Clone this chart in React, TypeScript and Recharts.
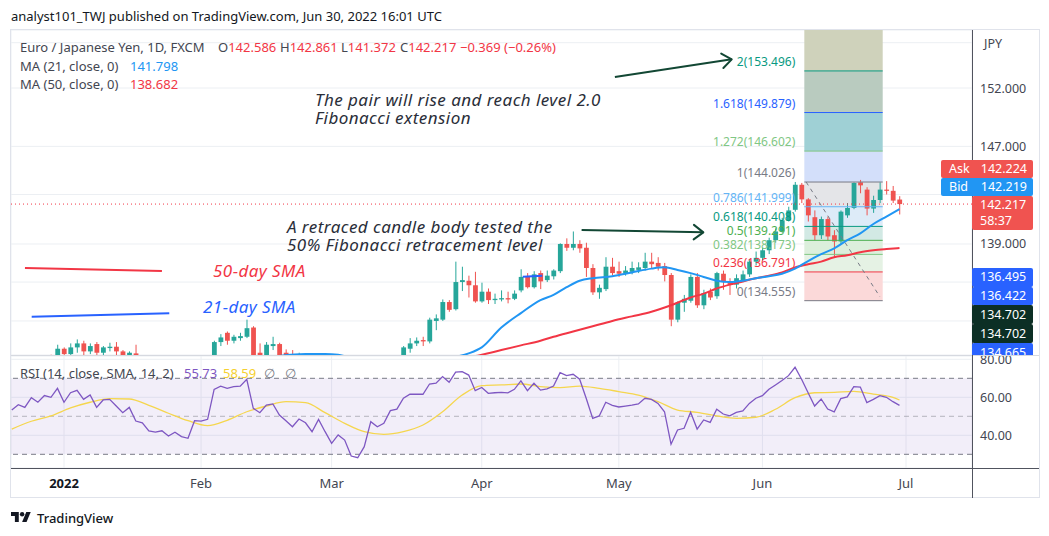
import React from "react";
import {
  ComposedChart,
  Bar,
  Line,
  XAxis,
  YAxis,
  CartesianGrid,
  ReferenceLine,
  ReferenceArea,
} from "recharts";

// daily bars, index 0 = Mon Jan 3 2022, one step per trading day
const firstBar = -8;

const opens = [
  128.3, 128.8, 129.3, 129.1, 129.7, 129.5, 130.0, 129.9,
  130.9, 130.5, 131.0, 131.3, 130.7, 131.25, 130.6, 130.95, 131.05, 130.7, 130.2, 130.55,
  129.8, 129.6, 129.1, 129.0, 129.1, 128.6, 128.9, 128.5, 128.35,
  129.2, 129.2, 129.35, 131.4, 132.1, 131.5, 131.7, 131.8, 132.5, 130.6, 130.3, 131.1,
  131.25, 130.6, 130.1, 129.7, 130.2, 129.9, 129.2, 130.0,
  128.9, 127.7, 128.4, 127.8, 126.0, 125.7, 126.6, 128.4, 127.9, 128.3, 129.4, 129.6,
  130.9, 131.3, 131.55, 131.45, 133.0, 133.1, 134.45, 133.9, 136.0, 136.1, 135.75,
  134.5, 135.25, 134.6, 134.65, 134.75, 134.7, 135.35, 136.4, 135.6, 136.7, 136.15,
  136.45, 136.85, 139.0, 138.7, 139.0, 138.7, 137.1, 135.2, 135.45, 137.2,
  136.85, 136.7, 136.8, 136.95, 137.1, 137.6, 137.5, 137.25, 136.55, 133.1, 134.4,
  134.55, 136.4, 134.2, 135.25, 134.9, 136.65, 136.05, 135.8, 136.15, 136.6, 137.6,
  137.9, 138.5, 139.3, 140.0, 140.9, 141.75, 143.8, 142.6, 141.15, 139.7, 141.0,
  139.7, 139.2, 141.3, 141.9, 144.0, 143.4, 141.85, 142.55, 143.4, 143.3, 142.586,
];

const highs = [
  129.0, 129.5, 129.4, 129.8, 129.9, 130.2, 130.45, 131.2,
  131.0, 131.3, 131.6, 131.5, 131.3, 131.4, 131.1, 131.35, 131.4, 130.8, 130.7, 131.2,
  130.2, 129.8, 129.3, 129.4, 129.2, 129.2, 129.0, 128.7, 129.4,
  129.5, 129.7, 131.5, 132.0, 132.2, 131.95, 132.1, 133.1, 132.6, 131.3, 131.4, 131.8,
  131.35, 130.85, 130.8, 130.6, 130.3, 130.1, 130.1, 130.0,
  129.3, 128.6, 128.6, 127.9, 126.6, 126.8, 128.6, 128.9, 128.7, 129.6, 130.1, 131.1,
  131.7, 131.75, 131.8, 133.25, 133.5, 134.65, 134.6, 137.6, 137.2, 136.5, 136.8,
  135.95, 135.5, 135.1, 135.35, 135.25, 135.35, 137.0, 136.7, 136.85, 136.9, 136.9,
  137.0, 139.05, 139.45, 140.0, 139.3, 139.1, 137.4, 135.8, 137.95, 137.9,
  137.6, 137.25, 137.6, 137.55, 138.3, 138.3, 137.95, 137.5, 136.7, 134.5, 135.0,
  136.6, 136.7, 135.4, 135.5, 136.8, 136.9, 136.3, 136.6, 136.9, 137.8, 138.4,
  138.7, 139.5, 140.25, 141.1, 142.0, 144.03, 143.95, 142.7, 141.7, 141.2, 141.2,
  140.1, 141.7, 142.3, 144.0, 144.2, 143.6, 142.9, 144.0, 144.1, 143.7, 142.861,
];

const lows = [
  128.1, 128.6, 129.0, 129.0, 129.3, 129.3, 129.7, 129.8,
  130.2, 130.3, 130.6, 130.4, 130.5, 130.2, 130.3, 130.7, 130.4, 129.9, 130.0, 129.6,
  129.4, 128.9, 128.7, 128.2, 128.4, 128.5, 128.2, 127.7, 128.2,
  128.9, 129.0, 129.2, 131.1, 131.2, 131.3, 131.5, 131.7, 130.2, 130.0, 130.2, 130.8,
  130.2, 130.0, 129.5, 129.5, 129.7, 128.1, 128.9, 128.5,
  127.3, 127.4, 127.4, 125.7, 124.4, 125.4, 126.5, 127.5, 127.4, 128.1, 129.1, 129.4,
  130.6, 131.1, 131.1, 131.3, 132.3, 133.0, 133.7, 133.8, 135.3, 134.8, 134.4,
  134.4, 134.3, 134.3, 134.5, 134.35, 134.6, 135.2, 135.5, 135.5, 135.45, 136.0,
  136.2, 136.7, 138.45, 138.5, 138.3, 136.4, 135.0, 134.7, 135.3, 136.5,
  136.4, 136.5, 136.6, 136.7, 136.9, 137.1, 136.9, 136.05, 132.6, 132.9, 133.7,
  134.4, 134.0, 133.9, 134.6, 134.7, 135.4, 135.0, 135.5, 136.0, 136.4, 137.3,
  137.7, 138.2, 139.1, 139.9, 140.8, 141.6, 142.3, 140.8, 139.3, 139.4, 139.3,
  137.9, 139.0, 141.1, 141.8, 143.1, 141.3, 141.5, 142.3, 143.0, 142.3, 141.372,
];

const closes = [
  128.8, 129.3, 129.1, 129.7, 129.5, 130.0, 129.9, 130.9,
  130.5, 131.0, 131.3, 130.7, 131.1, 130.6, 131.0, 131.05, 130.7, 130.2, 130.6, 129.8,
  129.6, 129.1, 129.0, 129.1, 128.6, 128.9, 128.5, 128.35, 129.2,
  129.2, 129.35, 131.4, 131.75, 131.5, 131.8, 131.85, 132.45, 130.35, 130.3, 131.2,
  131.25, 130.4, 130.1, 129.7, 130.2, 129.9, 129.2, 130.0, 128.9,
  127.7, 128.4, 127.8, 126.0, 125.7, 126.6, 128.4, 127.9, 128.3, 129.4, 129.6, 131.0,
  131.3, 131.5, 131.45, 133.1, 133.2, 134.45, 133.85, 136.0, 136.15, 135.75, 134.5,
  135.25, 134.6, 134.7, 134.75, 134.65, 135.1, 136.4, 135.6, 136.6, 136.05, 136.5,
  136.9, 139.0, 138.7, 139.0, 138.65, 137.1, 135.2, 135.55, 137.2, 136.7,
  136.65, 136.9, 137.1, 137.15, 137.6, 137.4, 137.2, 136.55, 133.1, 134.4, 134.7,
  136.4, 134.2, 135.15, 134.8, 136.7, 136.0, 135.8, 136.3, 136.6, 137.6, 137.9,
  138.5, 139.3, 140.0, 140.9, 141.7, 143.8, 142.6, 141.3, 139.7, 141.0, 139.6,
  139.2, 141.6, 141.9, 143.95, 143.75, 141.85, 142.55, 143.4, 143.3, 142.5, 142.217,
];

// RSI(14) per bar
const rsiValues = [
  53.3, 56.1, 54.7, 59.8, 57.4, 60.9, 60.0, 64.7,
  57.4, 62.4, 63.7, 58.9, 61.2, 54.7, 58.6, 58.9, 55.4, 51.9, 54.7, 47.5,
  46.6, 42.3, 41.7, 42.4, 39.6, 41.6, 39.3, 38.4, 47.7,
  47.5, 48.4, 64.2, 65.9, 64.7, 65.6, 65.9, 69.5, 54.2, 51.9, 55.9,
  56.5, 50.7, 47.7, 44.5, 48.6, 46.6, 41.9, 48.4, 41.9,
  35.8, 40.2, 37.5, 29.1, 28.2, 34.0, 47.2, 44.5, 46.3, 53.0, 53.8, 59.5,
  61.6, 61.7, 61.6, 67.0, 67.4, 70.9, 67.9, 73.3, 73.5, 71.7, 63.5,
  65.2, 62.1, 62.4, 62.6, 62.3, 64.2, 68.6, 63.5, 67.4, 63.8, 64.4,
  65.9, 73.0, 71.4, 72.1, 69.5, 59.5, 48.9, 50.2, 57.4, 55.8,
  54.9, 55.4, 55.9, 56.5, 59.5, 58.9, 56.8, 52.4, 35.3, 42.8, 43.7,
  52.1, 43.3, 48.1, 46.8, 53.7, 51.2, 50.2, 52.1, 52.8, 56.8, 59.5,
  60.9, 64.2, 66.5, 68.8, 71.4, 75.8, 69.5, 62.4, 55.4, 59.1, 53.8,
  52.3, 59.3, 60.2, 65.6, 65.4, 57.2, 58.9, 60.9, 60.0, 57.7, 55.73,
];

// moving averages read at a few bars; the curve is drawn through them
const sma21Points = [
  [-8, 128.7], [-3, 128.9], [2, 129.3], [7, 129.8], [12, 130.2], [17, 130.0],
  [22, 129.8], [27, 129.9], [32, 130.3], [37, 130.5], [40, 130.5], [42, 130.45],
  [45, 130.0], [50, 129.4], [55, 129.9], [59, 130.2], [62, 130.55], [64, 131.0],
  [67, 132.5], [70, 133.6], [73, 134.6], [75, 135.0], [77, 135.6], [79, 136.1],
  [81, 136.3], [84, 136.45], [87, 136.75], [90, 137.05], [92, 137.15], [94, 136.95],
  [96, 136.7], [98, 136.4], [100, 136.1], [102, 136.0], [104, 136.1], [106, 136.3],
  [108, 136.45], [110, 136.65], [112, 137.05], [114, 137.65], [116, 138.2],
  [118, 138.65], [120, 139.3], [122, 139.85], [124, 140.6], [126, 141.2], [128, 141.798],
];

const sma50Points = [
  [-8, 129.6], [2, 129.5], [12, 129.6], [22, 129.7], [32, 130.0], [42, 130.1],
  [52, 129.9], [60, 130.1], [64, 130.45], [67, 130.8], [70, 131.15], [73, 131.5],
  [75, 131.8], [78, 132.2], [81, 132.6], [84, 133.0], [87, 133.35], [90, 133.7],
  [93, 134.2], [96, 134.8], [98, 135.1], [100, 135.5], [102, 135.8], [104, 136.05],
  [106, 136.3], [108, 136.5], [110, 136.75], [112, 137.15], [114, 137.4], [116, 137.6],
  [118, 137.95], [120, 138.1], [122, 138.35], [124, 138.5], [126, 138.6], [128, 138.682],
];

const rsiMaPoints = [
  [-8, 43.3], [-5, 47.4], [-2, 50.2], [1, 54.4], [4, 57.4], [7, 59.3], [10, 59.1],
  [13, 55.8], [16, 51.6], [19, 47.7], [22, 45.1], [25, 47.9], [28, 52.4], [31, 55.4],
  [34, 57.7], [37, 57.2], [40, 51.9], [43, 46.3], [46, 41.9], [49, 40.5], [52, 41.9],
  [55, 45.4], [58, 52.4], [61, 61.2], [64, 66.1], [67, 66.5], [70, 67.0], [73, 65.6],
  [76, 65.1], [79, 65.9], [82, 64.7], [85, 63.0], [88, 61.2], [91, 57.7], [94, 53.3],
  [97, 52.1], [100, 50.2], [103, 48.9], [106, 49.5], [109, 53.7], [112, 59.8],
  [115, 62.4], [118, 62.6], [121, 63.1], [124, 61.7], [127, 60.0], [128, 58.59],
];

const monthTicks = [0, 21, 41, 64, 85, 107, 129];
const monthLabels = ["2022", "Feb", "Mar", "Apr", "May", "Jun", "Jul"];
const priceTicks = [133, 136, 139, 143, 147, 152, 156];
const priceLabels = [139, 147, 152];
const rsiTicks = [40, 60, 80];

// fibonacci tool
const fibRatios = [0, 0.236, 0.382, 0.5, 0.618, 0.786, 1, 1.272, 1.618, 2, 2.618];
const fibPrices = [134.555, 136.791, 138.173, 139.291, 140.408, 141.999, 144.026, 146.602, 149.879, 153.496, 159.35];
const fibBars = [113.42, 125.43];
const fibTrend = [{ x: 113.7, y: 144.026 }, { x: 125.0, y: 134.86 }];

// hand drawn lines on the chart, bar index / price
const arrowRise = [{ x: 84.4, y: 152.96 }, { x: 102.3, y: 154.52 }];
const arrowRetrace = [{ x: 79.3, y: 140.12 }, { x: 97.95, y: 139.93 }];
const redKeyLine = [{ x: -5.98, y: 137.1 }, { x: 15.0, y: 136.87 }];
const blueKeyLine = [{ x: -4.95, y: 133.33 }, { x: 16.13, y: 133.59 }];
const blueShortLine = [{ x: 70.28, y: 136.42 }, { x: 73.28, y: 136.49 }];
const lastPrice = 142.217;

const xDomain = [-8.12, 139.11];
const priceDomain = [130.43, 157.14];
const rsiDomain = [22.79, 81.74];

const toMap = (pts: number[][]) => new Map(pts.map(([i, v]) => [i, v]));
const sma21Map = toMap(sma21Points);
const sma50Map = toMap(sma50Points);
const rsiMaMap = toMap(rsiMaPoints);

const rows = opens.map((open, k) => {
  const i = firstBar + k;
  return {
    i,
    open,
    high: highs[k],
    low: lows[k],
    close: closes[k],
    range: [lows[k], highs[k]],
    sma21: sma21Map.get(i) ?? null,
    sma50: sma50Map.get(i) ?? null,
    rsi: rsiValues[k],
    rsiMa: rsiMaMap.get(i) ?? null,
  };
});

const font = "'Noto Sans', 'Open Sans', sans-serif";
const up = "#26a69a";
const down = "#ef5350";
const arrowColor = "#124734";
const axisText = "#434651";
const gridColor = "#eceff3";
const fibLineColors = ["#787b86", "#f23645", "#81c784", "#4caf50", "#089981", "#64b5f6", "#787b86", "#81c784", "#2962ff", "#089981", "#f23645"];
const fibFillColors = ["#fbd9d9", "#e5f2e4", "#dcefdc", "#d2e9e4", "#ddebf8", "#e4e5e8", "#d3dffa", "#9fd0d5", "#b9cbbf", "#cfd2bb"];

// range bar [low, high] turned into a candle; the y scale is log
const Candle = (props: any) => {
  const { x, y, width, height, payload } = props;
  const { open, close, high, low } = payload;
  const lh = Math.log(high);
  const ll = Math.log(low);
  const toY = (v: number) => (lh === ll ? y : y + (height * (lh - Math.log(v))) / (lh - ll));
  const cx = x + width / 2;
  const color = close >= open ? up : down;
  const top = toY(Math.max(open, close));
  const bot = toY(Math.min(open, close));
  return (
    <g>
      <line x1={cx} x2={cx} y1={y} y2={y + height} stroke={color} strokeWidth={1} />
      <rect x={cx - 2.4} y={top} width={4.8} height={Math.max(1, bot - top)} fill={color} />
    </g>
  );
};

const ArrowShape = (p: any) => {
  const { x1, y1, x2, y2 } = p;
  const a = Math.atan2(y2 - y1, x2 - x1);
  const head = (s: number) => `${x2 - 12 * Math.cos(a + s)},${y2 - 12 * Math.sin(a + s)}`;
  return (
    <g>
      <line x1={x1} y1={y1} x2={x2} y2={y2} stroke={arrowColor} strokeWidth={2} />
      <polyline
        points={`${head(0.65)} ${x2},${y2} ${head(-0.65)}`}
        fill="none"
        stroke={arrowColor}
        strokeWidth={2}
        strokeLinecap="round"
        strokeLinejoin="round"
      />
    </g>
  );
};

const fibShape = (k: number) => (p: any) => (
  <g>
    <line x1={p.x1} y1={p.y1} x2={p.x2} y2={p.y2} stroke={fibLineColors[k]} strokeWidth={1} />
    <text
      x={Math.min(p.x1, p.x2) - 9}
      y={p.y1 - 5}
      textAnchor="end"
      fill={fibLineColors[k]}
      fontSize={12}
      fontFamily={font}
    >
      {`${fibRatios[k]}(${fibPrices[k].toFixed(3)})`}
    </text>
  </g>
);

const PriceTick = (p: any) => {
  const v = p.payload.value;
  if (!priceLabels.includes(v)) return <g />;
  return (
    <text x={p.x} y={p.y} dy={4.5} textAnchor="start" fill={axisText} fontSize={12.5} fontFamily={font}>
      {v.toFixed(3)}
    </text>
  );
};

const RsiTick = (p: any) => (
  <text x={p.x} y={p.y} dy={4.5} textAnchor="start" fill={axisText} fontSize={12.5} fontFamily={font}>
    {p.payload.value.toFixed(2)}
  </text>
);

const TimeTick = (p: any) => {
  const k = monthTicks.indexOf(p.payload.value);
  return (
    <text
      x={p.x}
      y={p.y}
      dy={12}
      textAnchor="middle"
      fill={k === 0 ? "#131722" : axisText}
      fontWeight={k === 0 ? 700 : 400}
      fontSize={13}
      fontFamily={font}
    >
      {monthLabels[k]}
    </text>
  );
};

const Txt = ({ x, y, color = axisText, size = 13, style = {}, children }: any) => (
  <div
    style={{
      position: "absolute",
      left: x,
      top: y - 8,
      lineHeight: "16px",
      fontSize: size,
      color,
      whiteSpace: "nowrap",
      ...style,
    }}
  >
    {children}
  </div>
);

// drawing text: y is the centre of the first line, lines 18px apart
const Note = ({ x, y, color = "#2a2e39", children }: any) => (
  <Txt x={x} y={y} color={color} size={17} style={{ fontStyle: "italic", letterSpacing: 0.45, lineHeight: "18.3px", top: y - 9 }}>
    {children}
  </Txt>
);

const Badge = ({ x, y, w, h, bg, children }: any) => (
  <div
    style={{
      position: "absolute",
      left: x,
      top: y,
      width: w,
      height: h,
      background: bg,
      borderRadius: 2,
      color: "#fff",
      fontSize: 12.5,
      lineHeight: `${h}px`,
      boxSizing: "border-box",
      padding: "0 6px 0 8px",
      whiteSpace: "nowrap",
    }}
  >
    {children}
  </div>
);

export default function App() {
  return (
    <div style={{ position: "relative", width: 1049, height: 536, background: "#fff", fontFamily: font, overflow: "hidden" }}>
      <style>{"body{margin:0;background:#fff}"}</style>

      <Txt x={11} y={16} color="#131722">
        analyst101_TWJ published on TradingView.com, Jun 30, 2022 16:01 UTC
      </Txt>

      <div style={{ position: "absolute", left: 10, top: 29, width: 1030, height: 469, border: "1px solid #e0e3eb", boxSizing: "border-box" }} />

      {/* price pane */}
      <div style={{ position: "absolute", left: 11, top: 30, width: 1028, height: 325, overflow: "hidden" }}>
        <ComposedChart width={1028} height={325} data={rows} margin={{ top: 0, right: 0, bottom: 0, left: 0 }}>
          <CartesianGrid stroke={gridColor} />
          <XAxis
            dataKey="i"
            type="number"
            domain={xDomain}
            ticks={monthTicks}
            height={0}
            tick={false}
            axisLine={false}
            tickLine={false}
            allowDataOverflow
          />
          <YAxis
            orientation="right"
            width={67}
            type="number"
            scale="log"
            domain={priceDomain}
            ticks={priceTicks}
            allowDataOverflow
            tick={PriceTick}
            tickSize={6}
            tickMargin={2}
            tickLine={false}
            axisLine={false}
            interval={0}
          />
          {fibFillColors.map((c, k) => (
            <ReferenceArea
              key={`z${k}`}
              x1={fibBars[0]}
              x2={fibBars[1]}
              y1={fibPrices[k]}
              y2={fibPrices[k + 1]}
              fill={c}
              fillOpacity={1}
              stroke="none"
              ifOverflow="hidden"
            />
          ))}
          {fibPrices.slice(0, 10).map((p, k) => (
            <ReferenceLine
              key={`f${k}`}
              segment={[{ x: fibBars[0], y: p }, { x: fibBars[1], y: p }]}
              shape={fibShape(k)}
            />
          ))}
          <ReferenceLine segment={fibTrend} stroke="#787b86" strokeDasharray="4 4" strokeWidth={1} />
          <ReferenceLine y={lastPrice} stroke="#f23645" strokeDasharray="1 3" strokeWidth={1} />
          <Bar dataKey="range" barSize={5} shape={Candle} isAnimationActive={false} />
          <Line type="monotone" dataKey="sma50" stroke="#f23645" strokeWidth={2} dot={false} connectNulls isAnimationActive={false} />
          <Line type="monotone" dataKey="sma21" stroke="#2196f3" strokeWidth={2} dot={false} connectNulls isAnimationActive={false} />
          <ReferenceLine segment={redKeyLine} stroke="#f23645" strokeWidth={2} />
          <ReferenceLine segment={blueKeyLine} stroke="#2962ff" strokeWidth={2} />
          <ReferenceLine segment={blueShortLine} stroke="#2962ff" strokeWidth={2} />
          <ReferenceLine segment={arrowRise} shape={ArrowShape} />
          <ReferenceLine segment={arrowRetrace} shape={ArrowShape} />
        </ComposedChart>
      </div>

      {/* rsi pane and time axis */}
      <div style={{ position: "absolute", left: 11, top: 356, width: 1028, height: 142, overflow: "hidden" }}>
        <ComposedChart width={1028} height={142} data={rows} margin={{ top: 0, right: 0, bottom: 0, left: 0 }}>
          <CartesianGrid stroke={gridColor} />
          <XAxis
            dataKey="i"
            type="number"
            domain={xDomain}
            ticks={monthTicks}
            height={30}
            tick={TimeTick}
            tickLine={false}
            axisLine={false}
            interval={0}
            allowDataOverflow
          />
          <YAxis
            orientation="right"
            width={67}
            type="number"
            domain={rsiDomain}
            ticks={rsiTicks}
            allowDataOverflow
            tick={RsiTick}
            tickSize={6}
            tickMargin={2}
            tickLine={false}
            axisLine={false}
            interval={0}
          />
          <ReferenceArea y1={30} y2={70} fill="#7e57c2" fillOpacity={0.1} stroke="none" />
          <ReferenceLine y={70} stroke="#787b86" strokeDasharray="5 4" />
          <ReferenceLine y={50} stroke="#787b86" strokeOpacity={0.5} strokeDasharray="5 4" />
          <ReferenceLine y={30} stroke="#787b86" strokeDasharray="5 4" />
          <Line type="monotone" dataKey="rsiMa" stroke="#f5d64e" strokeWidth={1.3} dot={false} connectNulls isAnimationActive={false} />
          <Line type="linear" dataKey="rsi" stroke="#7e57c2" strokeWidth={1.3} dot={false} isAnimationActive={false} />
        </ComposedChart>
      </div>

      {/* frame lines */}
      <div style={{ position: "absolute", left: 11, top: 355, width: 1028, height: 1, background: "#d6d9e0" }} />
      <div style={{ position: "absolute", left: 11, top: 468, width: 1028, height: 1, background: "#50535e" }} />
      <div style={{ position: "absolute", left: 972, top: 30, width: 1, height: 468, background: "#50535e" }} />

      {/* overlays clipped to the price pane */}
      <div style={{ position: "absolute", left: 0, top: 0, width: 1049, height: 355, overflow: "hidden" }}>
        <Txt x={20} y={46.7}>Euro / Japanese Yen, 1D, FXCM</Txt>
        <Txt x={218} y={46.7}>O<span style={{ color: "#f23645" }}>142.586</span></Txt>
        <Txt x={280} y={46.7}>H<span style={{ color: "#f23645" }}>142.861</span></Txt>
        <Txt x={341} y={46.7}>L<span style={{ color: "#f23645" }}>141.372</span></Txt>
        <Txt x={400} y={46.7}>C<span style={{ color: "#f23645" }}>142.217</span></Txt>
        <Txt x={460} y={46.7} color="#f23645">−0.369 (−0.26%)</Txt>
        <Txt x={20} y={65.7}>MA (21, close, 0)</Txt>
        <Txt x={130} y={65.7} color="#2196f3">141.798</Txt>
        <Txt x={20} y={84.3}>MA (50, close, 0)</Txt>
        <Txt x={130} y={84.3} color="#f23645">138.682</Txt>

        <Note x={315} y={100}>
          The pair will rise and reach level 2.0
          <br />
          Fibonacci extension
        </Note>
        <Note x={287} y={226.7}>
          A retraced candle body tested the
          <br />
          50% Fibonacci retracement level
        </Note>
        <Note x={213} y={270.7} color="#f23645">50-day SMA</Note>
        <Note x={203} y={307.3} color="#2962ff">21-day SMA</Note>
        <Note x={527} y={364}>Bullish Trend Line</Note>

        <Txt x={984} y={44} size={12.5}>JPY</Txt>

        <Badge x={941} y={159.5} w={92} h={18.5} bg="#f05350">
          <span>Ask</span>
          <span style={{ float: "right" }}>142.224</span>
        </Badge>
        <Badge x={941} y={178} w={92} h={18} bg="#2196f3">
          <span>Bid</span>
          <span style={{ float: "right" }}>142.219</span>
        </Badge>
        <div
          style={{
            position: "absolute",
            left: 972,
            top: 196,
            width: 61,
            height: 34,
            background: "#f05350",
            borderRadius: 2,
            color: "#fff",
            fontSize: 12.5,
            lineHeight: "16px",
            padding: "1px 0 0 8px",
            boxSizing: "border-box",
          }}
        >
          <div>142.217</div>
          <div>58:37</div>
        </div>
        <Badge x={972} y={268} w={61} h={18.5} bg="#2962ff">136.495</Badge>
        <Badge x={972} y={286.5} w={61} h={18.5} bg="#2962ff">136.422</Badge>
        <Badge x={972} y={305} w={61} h={19} bg="#0c2f25">134.702</Badge>
        <Badge x={972} y={324} w={61} h={19} bg="#0c2f25">134.702</Badge>
        <Badge x={972} y={343} w={61} h={19} bg="#2962ff">134.665</Badge>
      </div>

      <Txt x={20} y={372.7}>RSI (14, close, SMA, 14, 2)</Txt>
      <Txt x={184} y={372.7} color="#7e57c2">55.73</Txt>
      <Txt x={223} y={372.7} color="#f5d030">58.59</Txt>
      <Txt x={264} y={372.7} color="#787b86">∅</Txt>
      <Txt x={285} y={372.7} color="#787b86">∅</Txt>

      {/* footer logo */}
      <svg style={{ position: "absolute", left: 11, top: 512 }} width={20} height={10} viewBox="0 4 36 18">
        <path d="M14 22H7V11H0V4h14v18z" fill="#131722" />
        <circle cx={20} cy={8} r={4} fill="#131722" />
        <path d="M28 22h-8l7.5-18h8L28 22z" fill="#131722" />
      </svg>
      <Txt x={37} y={517.5} color="#131722" style={{ fontWeight: 500 }}>TradingView</Txt>
    </div>
  );
}
